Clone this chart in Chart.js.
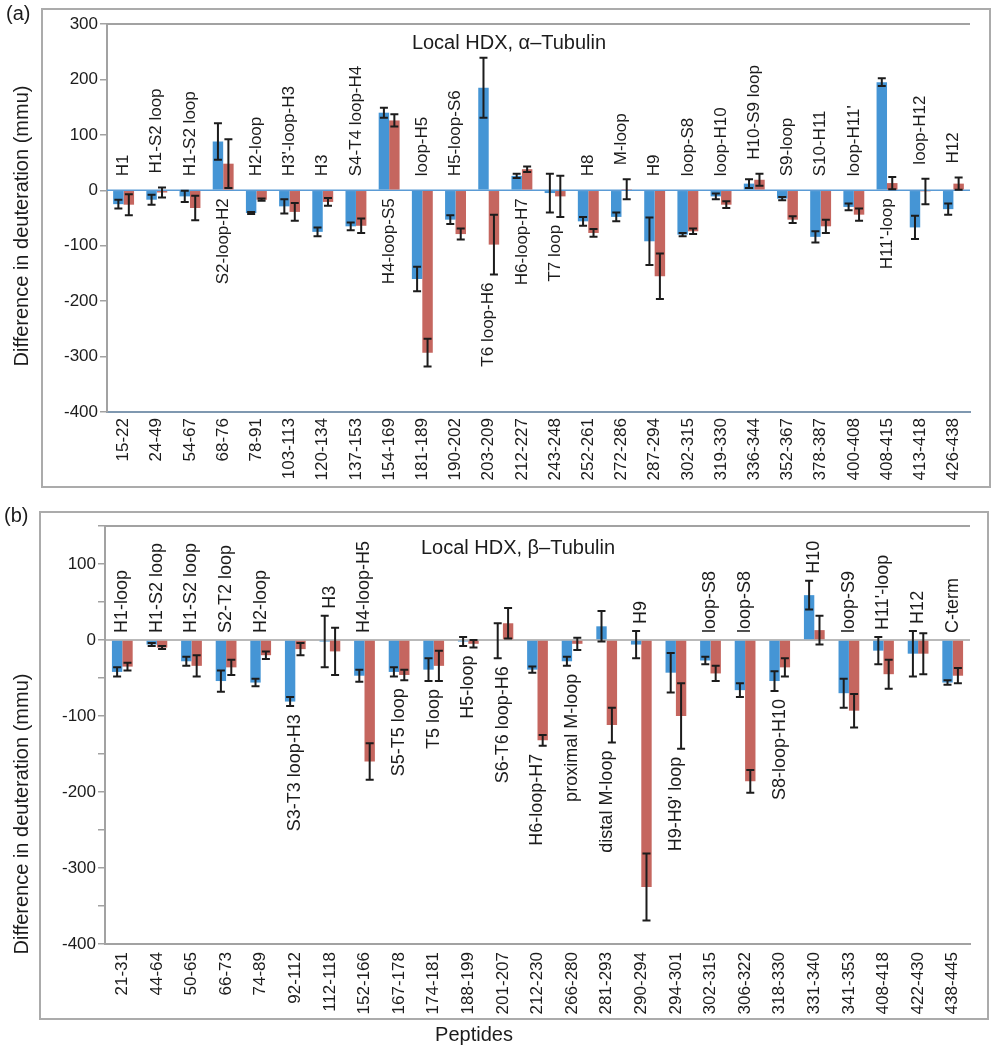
<!DOCTYPE html>
<html><head><meta charset="utf-8">
<script src="https://cdn.jsdelivr.net/npm/chart.js@4.4.0/dist/chart.umd.min.js"></script>
<style>
html,body{margin:0;padding:0;background:#fff;}
body{width:996px;height:1050px;position:relative;overflow:hidden;}
canvas{position:absolute;left:0;}
#ca{top:0;}
#cb{top:495px;}
</style></head><body>
<canvas id="ca" width="996" height="495"></canvas>
<canvas id="cb" width="996" height="555"></canvas>
<script>
// ---------- Panel (a): alpha-tubulin ----------
const peptidesA = ['15-22','24-49','54-67','68-76','78-91','103-113','120-134','137-153','154-169','181-189','190-202','203-209','212-227','243-248','252-261','272-286','287-294','302-315','319-330','336-344','352-367','378-387','400-408','408-415','413-418','426-438'];
const blueA    = [-25,-17,-11, 88,-41,-29,-75,-65,140,-160,-53,185, 26, -5,-56,-48, -92,-80,-11, 12,-15,-84,-30,195,-67,-34];
const blueErrA = [  8,  9, 10, 33,  2, 13,  8,  7,  9,  22,  8, 54,  4, 35,  8,  8,  43,  3,  5,  8,  3, 10,  6,  7, 21, 10];
const redA     = [-26, -4,-32, 48,-17,-39,-21,-64,126,-293,-79,-98, 38,-11,-77,  2,-155,-74,-26, 19,-53,-65,-44, 13, -2, 12];
const redErrA  = [ 19,  9, 22, 44,  2, 16,  7, 13, 11,  25, 10, 54,  5, 37,  7, 18,  41,  5,  6, 11,  6, 12, 11, 11, 23, 11];
const regionsA = ['H1','H1-S2 loop','H1-S2 loop','S2-loop-H2','H2-loop',"H3'-loop-H3",'H3','S4-T4 loop-H4','H4-loop-S5','loop-H5','H5-loop-S6','T6 loop-H6','H6-loop-H7','T7 loop','H8','M-loop','H9','loop-S8','loop-H10','H10-S9 loop','S9-loop','S10-H11',"loop-H11'","H11'-loop",'loop-H12','H12'];
const sidesA   = ['up','up','up','down','up','up','up','up','down','up','up','down','down','down','up','up','up','up','up','up','up','up','up','down','up','up'];
const yTicksA  = {min:-400, max:300, step:100};

// ---------- Panel (b): beta-tubulin ----------
const peptidesB = ['21-31','44-64','50-65','66-73','74-89','92-112','112-118','152-166','167-178','174-181','188-199','201-207','212-230','266-280','281-293','290-294','294-301','302-315','306-322','318-330','331-340','341-353','408-418','422-430','438-445'];
const blueB    = [-42, -6,-28,-54,-56,-81, -2, -47,-42,-39, -2, -1, -39,-28,  18,  -6, -43,-27, -66,-54, 59,-70,-14,-18,-56];
const blueErrB = [  6,  2,  6, 14,  5,  6, 34,   8,  6, 15,  6, 23,   4,  6,  20,  18,  26,  5,   9, 13, 19, 19, 18, 30,  3];
const redB     = [-35,-10,-34,-36,-20,-12,-15,-160,-46,-34, -5, 22,-132, -5,-112,-325,-100,-44,-186,-36, 13,-93,-45,-18,-47];
const redErrB  = [  5,  2, 14, 10,  5,  8, 31,  24,  7, 20,  5, 20,   7,  8,  23,  44,  43, 10,  15, 12, 19, 22, 19, 27, 10];
const regionsB = ['H1-loop','H1-S2 loop','H1-S2 loop','S2-T2 loop','H2-loop','S3-T3 loop-H3','H3','H4-loop-H5','S5-T5 loop','T5 loop','H5-loop','S6-T6 loop-H6','H6-loop-H7','proximal M-loop','distal M-loop','H9',"H9-H9' loop",'loop-S8','loop-S8','S8-loop-H10','H10','loop-S9',"H11'-loop",'H12','C-term'];
const sidesB   = ['up','up','up','up','up','down','up','up','down','down','down','down','down','down','down','up','down','up','up','down','up','up','up','up','up'];
const yTicksB  = {min:-400, max:150, step:50, labelEvery:100};

const FONT = "'Liberation Sans', Arial, Helvetica, sans-serif";
const BLUE = '#4595d5';
const RED = '#c5665f';
const INK = '#1c1c1c';

function extrasPlugin(o) {
  return {
    id: 'extras_' + o.key,
    beforeDatasetsDraw(chart) {
      const {ctx, chartArea: ca, scales: {y}} = chart;
      ctx.save();
      ctx.strokeStyle = '#a2a2a2'; ctx.lineWidth = 2;
      ctx.beginPath(); ctx.moveTo(ca.left, ca.top); ctx.lineTo(ca.right, ca.top); ctx.stroke();
      const y0 = y.getPixelForValue(0);
      ctx.strokeStyle = o.zeroColor; ctx.lineWidth = 1.5;
      ctx.beginPath(); ctx.moveTo(ca.left, y0); ctx.lineTo(ca.right, y0); ctx.stroke();
      ctx.restore();
    },
    afterDatasetsDraw(chart) {
      const {ctx, scales: {x, y}} = chart;
      ctx.save();
      ctx.strokeStyle = INK; ctx.lineWidth = 2;
      [0, 1].forEach(di => {
        const meta = chart.getDatasetMeta(di);
        const vals = o.vals[di], errs = o.errs[di];
        meta.data.forEach((bar, i) => {
          const bx = bar.x;
          const yt = y.getPixelForValue(vals[i] + errs[i]);
          const yb = y.getPixelForValue(vals[i] - errs[i]);
          ctx.beginPath();
          ctx.moveTo(bx, yt); ctx.lineTo(bx, yb);
          ctx.moveTo(bx - 4, yt); ctx.lineTo(bx + 4, yt);
          ctx.moveTo(bx - 4, yb); ctx.lineTo(bx + 4, yb);
          ctx.stroke();
        });
      });
      // region labels
      const y0 = y.getPixelForValue(0);
      ctx.fillStyle = INK;
      ctx.font = o.labelFont;
      o.labels.forEach((t, i) => {
        const cx = x.getPixelForValue(i);
        const b = o.vals[0][i], r = o.vals[1][i];
        const eb = o.errs[0][i], er = o.errs[1][i];
        ctx.save();
        if (o.sides[i] === 'up') {
          const topV = Math.max(0, b + eb, r + er);
          const py = Math.min(y0, y.getPixelForValue(topV)) - o.upPad;
          ctx.translate(cx, py); ctx.rotate(-Math.PI / 2);
          ctx.textAlign = 'left';
        } else {
          const botV = Math.min(0, b - eb, r - er);
          const py = Math.max(y0, y.getPixelForValue(botV)) + o.downPad;
          ctx.translate(cx, py); ctx.rotate(-Math.PI / 2);
          ctx.textAlign = 'right';
        }
        ctx.textBaseline = 'middle';
        ctx.fillText(t, 0, 0);
        ctx.restore();
      });
      ctx.restore();
    },
    afterDraw(chart) {
      const ctx = chart.ctx;
      ctx.save();
      // frame
      ctx.strokeStyle = '#ababab'; ctx.lineWidth = 2;
      ctx.strokeRect(o.frame[0], o.frame[1], o.frame[2], o.frame[3]);
      ctx.fillStyle = INK;
      // title
      ctx.font = '20px ' + FONT;
      ctx.textAlign = 'center'; ctx.textBaseline = 'middle';
      ctx.fillText(o.title, o.titlePos[0], o.titlePos[1]);
      // panel letter
      ctx.textAlign = 'left';
      ctx.fillText(o.letter, o.letterPos[0], o.letterPos[1]);
      // y title
      ctx.save();
      ctx.translate(o.yTitlePos[0], o.yTitlePos[1]);
      ctx.rotate(-Math.PI / 2);
      ctx.textAlign = 'center';
      ctx.fillText('Difference in deuteration (mmu)', 0, 0);
      ctx.restore();
      if (o.xTitle) {
        ctx.textAlign = 'center';
        ctx.fillText(o.xTitle, o.xTitlePos[0], o.xTitlePos[1]);
      }
      ctx.restore();
    }
  };
}

function makeChart(id, o) {
  return new Chart(document.getElementById(id), {
    type: 'bar',
    data: {
      labels: o.cats,
      datasets: [
        {data: o.vals[0], backgroundColor: BLUE, borderWidth: 0},
        {data: o.vals[1], backgroundColor: RED, borderWidth: 0}
      ]
    },
    options: {
      responsive: false,
      animation: false,
      devicePixelRatio: 1,
      layout: {padding: o.padding},
      datasets: {bar: {categoryPercentage: o.catPct, barPercentage: 1.0}},
      plugins: {legend: {display: false}, tooltip: {enabled: false}, title: {display: false}},
      scales: {
        x: {
          grid: {display: false, drawTicks: false},
          border: {display: true, color: o.xAxisColor, width: 2},
          ticks: {
            autoSkip: false, minRotation: 90, maxRotation: 90, padding: o.xTickPad,
            color: INK, font: {family: FONT, size: 17}
          },
          afterFit: s => { s.height = o.xHeight; }
        },
        y: {
          min: o.ticks.min, max: o.ticks.max,
          grid: {drawOnChartArea: false, drawTicks: true, tickLength: 7, color: '#a2a2a2', lineWidth: 1.5},
          border: {display: true, color: '#a2a2a2', width: 2},
          ticks: {
            stepSize: o.ticks.step, padding: 2, color: INK, font: {family: FONT, size: 17},
            callback: v => (o.ticks.labelEvery && v % o.ticks.labelEvery !== 0) ? '' : v
          },
          afterFit: s => { s.width = o.yWidth; }
        }
      }
    },
    plugins: [extrasPlugin(o)]
  });
}

makeChart('ca', {
  key: 'a',
  cats: peptidesA, vals: [blueA, redA], errs: [blueErrA, redErrA],
  labels: regionsA, sides: sidesA, ticks: yTicksA,
  padding: {left: 0, right: 26, top: 24, bottom: 0},
  yWidth: 107, xHeight: 83, xTickPad: 6, catPct: 0.63,
  zeroColor: '#5b9bd5', xAxisColor: '#7f98b0',
  labelFont: '17px ' + FONT, upPad: 14, downPad: 8,
  frame: [42, 9, 948, 478],
  title: 'Local HDX, \u03B1\u2013Tubulin', titlePos: [509, 43],
  letter: '(a)', letterPos: [6, 14],
  yTitlePos: [22, 226]
});

makeChart('cb', {
  key: 'b',
  cats: peptidesB, vals: [blueB, redB], errs: [blueErrB, redErrB],
  labels: regionsB, sides: sidesB, ticks: yTicksB,
  padding: {left: 0, right: 26, top: 31, bottom: 0},
  yWidth: 105, xHeight: 106, xTickPad: 8, catPct: 0.6,
  zeroColor: '#a2a2a2', xAxisColor: '#a2a2a2',
  labelFont: '18px ' + FONT, upPad: 7, downPad: 8,
  frame: [40, 17, 948, 507],
  title: 'Local HDX, \u03B2\u2013Tubulin', titlePos: [518, 53],
  letter: '(b)', letterPos: [4, 21],
  yTitlePos: [22, 319],
  xTitle: 'Peptides', xTitlePos: [474, 540]
});
</script>
</body></html>
